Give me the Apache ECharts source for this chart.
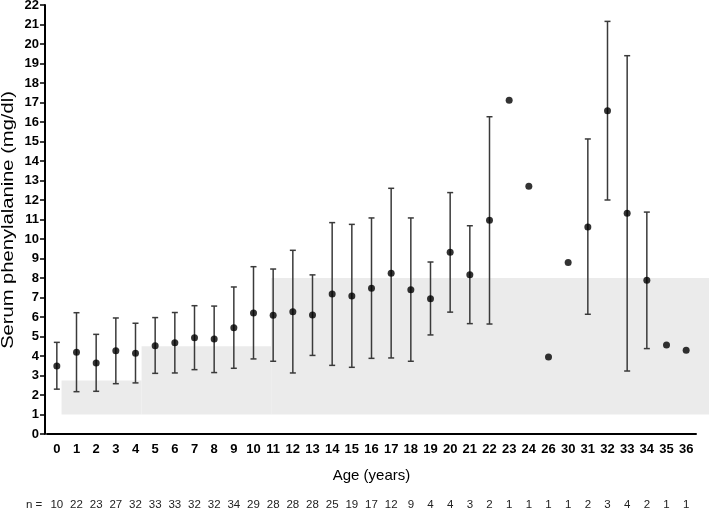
<!DOCTYPE html>
<html>
<head>
<meta charset="utf-8">
<script src="https://cdn.jsdelivr.net/npm/echarts@6/dist/echarts.min.js"></script>
<style>
  html, body { margin: 0; padding: 0; background: #fff; }
  #main { width: 709px; height: 510px; }
</style>
</head>
<body>
<div id="main"></div>
<script>
// age groups and sample sizes
var ages = ['0', '1', '2', '3', '4', '5', '6', '7', '8', '9', '10', '11', '12', '13', '14', '15', '16',
    '17', '18', '19', '20', '21', '22', '23', '24', '26', '30', '31', '32', '33', '34', '35', '36'];
var counts = [10, 22, 23, 27, 32, 33, 33, 32, 32, 34, 29, 28, 28, 28, 25, 19, 17, 12, 9, 4, 4, 3, 2,
    1, 1, 1, 1, 2, 3, 4, 2, 1, 1];

// mean serum phenylalanine and error bar ends (mg/dl)
var means = [3.49, 4.19, 3.64, 4.27, 4.14, 4.53, 4.68, 4.94, 4.87, 5.45, 6.21, 6.09, 6.27, 6.10, 7.18,
    7.08, 7.47, 8.24, 7.40, 6.94, 9.32, 8.17, 10.96, 17.11, 12.70, 3.95, 8.80, 10.62, 16.58, 11.32,
    7.88, 4.56, 4.29];
var upper = [4.70, 6.22, 5.11, 5.95, 5.68, 5.97, 6.23, 6.58, 6.56, 7.54, 8.58, 8.46, 9.42, 8.16, 10.84,
    10.75, 11.08, 12.60, 11.08, 8.82, 12.38, 10.68, 16.27, null, null, null, null, 15.13, 21.16, 19.40,
    11.38, null, null];
var lower = [2.30, 2.17, 2.19, 2.58, 2.62, 3.11, 3.13, 3.30, 3.15, 3.37, 3.85, 3.73, 3.13, 4.03, 3.52,
    3.42, 3.88, 3.90, 3.73, 5.08, 6.25, 5.66, 5.64, null, null, null, null, 6.14, 12.00, 3.23,
    4.38, null, null];

// target range bands (start/end in category index units, low/high in mg/dl)
var bandStart = [0.24, 4.31, 10.9];
var bandEnd = [4.31, 10.9, 33.2];
var bandLow = [1, 1, 1];
var bandHigh = [2.75, 4.5, 8];

var errData = [];
for (var i = 0; i < ages.length; i++) {
    if (lower[i] != null) errData.push([i, lower[i], upper[i]]);
}
var bandData = bandStart.map(function(s, k) {
    return [s, bandEnd[k], bandLow[k], bandHigh[k]];
});

var chart = echarts.init(document.getElementById('main'));
var font = 'Arial, "Liberation Sans", sans-serif';

var option = {
    animation: false,
    textStyle: { fontFamily: font },
    grid: { left: 47, right: 13, top: 5, bottom: 76, containLabel: false, outerBoundsMode: 'none' },
    xAxis: [{
        type: 'category',
        data: ages,
        position: 'bottom',
        name: 'Age (years)',
        nameLocation: 'middle',
        nameGap: 34,
        nameTextStyle: { fontSize: 15, color: '#000', fontFamily: font },
        axisLine: { onZero: false, lineStyle: { color: '#000', width: 2 } },
        axisTick: { alignWithLabel: true, length: 5, lineStyle: { color: '#000', width: 1.5 } },
        axisLabel: { color: '#000', fontWeight: 'bold', fontSize: 13, margin: 9, interval: 0, fontFamily: font },
        splitLine: { show: false }
    }, {
        type: 'category',
        data: counts,
        position: 'bottom',
        axisLine: { show: false, onZero: false },
        axisTick: { show: false },
        axisLabel: { color: '#222', fontSize: 11.5, margin: 65, interval: 0, fontFamily: font },
        splitLine: { show: false }
    }, {
        type: 'value',
        position: 'top',
        show: false,
        axisLine: { onZero: false },
        min: -0.5,
        max: ages.length - 0.5
    }],
    yAxis: {
        type: 'value',
        min: 0,
        max: 22,
        interval: 1,
        offset: 2,
        axisLine: { show: true, onZero: false, lineStyle: { color: '#000', width: 2 } },
        axisTick: { show: true, length: 5, lineStyle: { color: '#000', width: 1.5 } },
        axisLabel: { color: '#000', fontWeight: 'bold', fontSize: 13, margin: 6, fontFamily: font },
        splitLine: { show: false }
    },
    graphic: [{
        type: 'text',
        left: 26,
        top: 499,
        style: { text: 'n =', fontSize: 11.5, fill: '#222', fontFamily: font }
    }, {
        // y axis title, stretched along its length like the original
        type: 'text',
        x: 8.5,
        y: 220,
        rotation: Math.PI / 2,
        scaleX: 1.26,
        style: {
            text: 'Serum phenylalanine (mg/dl)',
            fontSize: 16,
            fill: '#000',
            fontFamily: font,
            align: 'center',
            verticalAlign: 'middle'
        }
    }],
    series: [{
        type: 'custom',
        xAxisIndex: 2,
        clip: false,
        z: 0,
        silent: true,
        data: bandData,
        renderItem: function(params, api) {
            var p0 = api.coord([api.value(0), api.value(3)]);
            var p1 = api.coord([api.value(1), api.value(2)]);
            return {
                type: 'rect',
                shape: { x: p0[0], y: p0[1], width: p1[0] - p0[0], height: p1[1] - p0[1] },
                style: { fill: '#ebebeb' }
            };
        }
    }, {
        type: 'custom',
        xAxisIndex: 0,
        z: 2,
        data: errData,
        renderItem: function(params, api) {
            var lo = api.coord([api.value(0), api.value(1)]);
            var hi = api.coord([api.value(0), api.value(2)]);
            var w = 3;
            var st = { stroke: '#3a3a3a', lineWidth: 1.5 };
            return {
                type: 'group',
                children: [
                    { type: 'line', shape: { x1: hi[0], y1: hi[1], x2: lo[0], y2: lo[1] }, style: st },
                    { type: 'line', shape: { x1: hi[0] - w, y1: hi[1], x2: hi[0] + w, y2: hi[1] }, style: st },
                    { type: 'line', shape: { x1: lo[0] - w, y1: lo[1], x2: lo[0] + w, y2: lo[1] }, style: st }
                ]
            };
        }
    }, {
        type: 'scatter',
        xAxisIndex: 0,
        z: 3,
        symbol: 'circle',
        symbolSize: 7,
        itemStyle: { color: '#000' },
        data: means
    }]
};

chart.setOption(option);
</script>
</body>
</html>
